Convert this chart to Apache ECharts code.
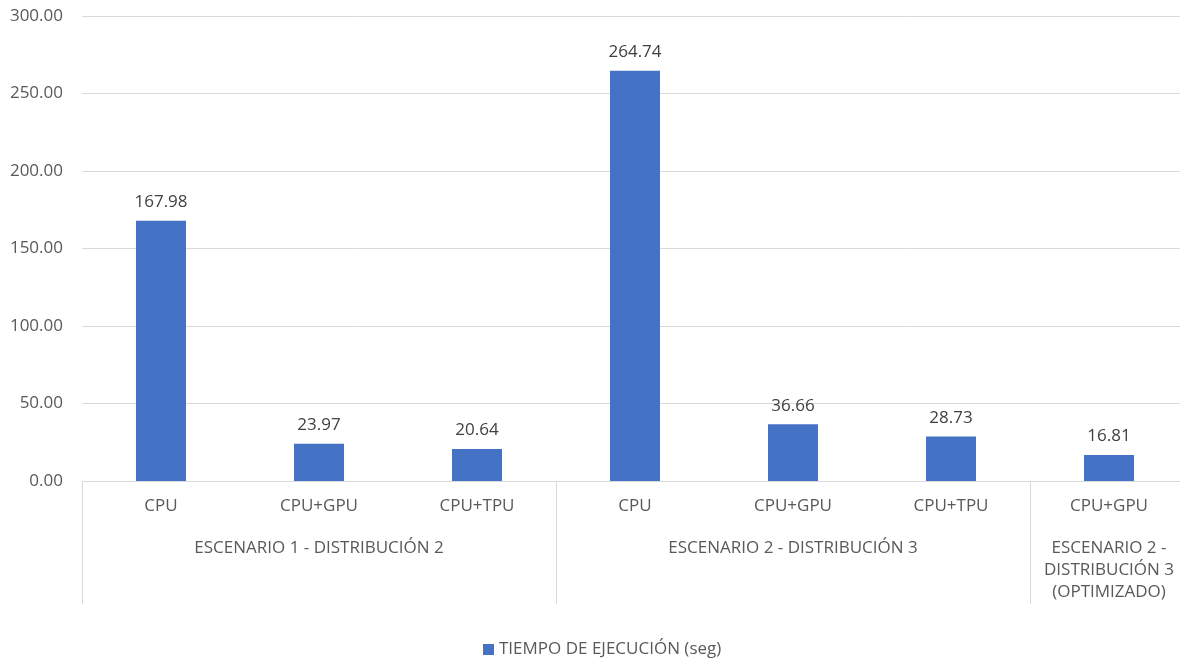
<!DOCTYPE html>
<html>
<head>
<meta charset="utf-8">
<script src="https://cdn.jsdelivr.net/npm/echarts@6/dist/echarts.min.js"></script>
<style>
  html, body { margin: 0; padding: 0; background: #ffffff; overflow: hidden; }
  /* the plot runs slightly past the right edge of the window */
  #chart { width: 1188px; height: 662px; }
</style>
</head>
<body>
<div id="chart"></div>
<script>
// Execution time per configuration, grouped by scenario
const categories = ['CPU', 'CPU+GPU', 'CPU+TPU', 'CPU', 'CPU+GPU', 'CPU+TPU', 'CPU+GPU'];
const groupOfCategory = [
  'ESCENARIO 1 - DISTRIBUCIÓN 2', 'ESCENARIO 1 - DISTRIBUCIÓN 2', 'ESCENARIO 1 - DISTRIBUCIÓN 2',
  'ESCENARIO 2 - DISTRIBUCIÓN 3', 'ESCENARIO 2 - DISTRIBUCIÓN 3', 'ESCENARIO 2 - DISTRIBUCIÓN 3',
  'ESCENARIO 2 -\nDISTRIBUCIÓN 3\n(OPTIMIZADO)'
];
const groupLabelIndex = [1, 4, 6];      // category that carries each group's label
const groupStartIndex = [0, 3, 6];      // first category of each group (separator lines)
const executionTime = [167.98, 23.97, 20.64, 264.74, 36.66, 28.73, 16.81];
const seriesName = 'TIEMPO DE EJECUCIÓN (seg)';

const FONT = '"Open Sans", "Noto Sans", sans-serif';
const TEXT = '#595959';
const LINE = '#d9d9d9';
const FS = 17;

const chart = echarts.init(document.getElementById('chart'), null, { renderer: 'canvas' });

chart.setOption({
  animation: false,
  textStyle: { fontFamily: FONT },
  grid: { left: 82, top: 16, right: 0, height: 465, containLabel: false },
  legend: {
    top: 641,
    left: 483,
    padding: 0,
    itemWidth: 11,
    itemHeight: 11,
    itemGap: 10,
    icon: 'rect',
    textStyle: { color: TEXT, fontSize: FS, fontFamily: FONT },
    data: [seriesName]
  },
  xAxis: [
    {
      type: 'category',
      data: categories,
      position: 'bottom',
      axisLine: { show: true, lineStyle: { color: LINE, width: 1 } },
      axisTick: { show: false },
      axisLabel: {
        color: TEXT, fontSize: FS, fontFamily: FONT,
        margin: 15, lineHeight: 20, interval: 0
      },
      splitLine: { show: false }
    },
    {
      type: 'category',
      data: groupOfCategory,
      position: 'bottom',
      offset: 0,
      axisLine: { show: false },
      axisTick: {
        show: true,
        length: 123,
        interval: (idx) => groupStartIndex.includes(idx),
        lineStyle: { color: LINE, width: 1 }
      },
      axisLabel: {
        color: TEXT, fontSize: FS, fontFamily: FONT,
        margin: 56, lineHeight: 22, align: 'center',
        interval: (idx) => groupLabelIndex.includes(idx)
      },
      splitLine: { show: false }
    }
  ],
  yAxis: {
    type: 'value',
    min: 0,
    max: 300,
    interval: 50,
    axisLine: { show: false },
    axisTick: { show: false },
    axisLabel: {
      color: TEXT, fontSize: FS, fontFamily: FONT, margin: 19,
      formatter: (v) => v.toFixed(2)
    },
    splitLine: { lineStyle: { color: LINE, width: 1 } }
  },
  series: [
    {
      name: seriesName,
      type: 'bar',
      xAxisIndex: 0,
      data: executionTime,
      barWidth: 50,
      itemStyle: { color: '#4472C4' },
      label: {
        show: true,
        position: 'top',
        distance: 10,
        color: '#404040',
        fontSize: FS,
        fontFamily: FONT,
        formatter: (p) => p.value.toFixed(2)
      }
    }
  ]
});
</script>
</body>
</html>
